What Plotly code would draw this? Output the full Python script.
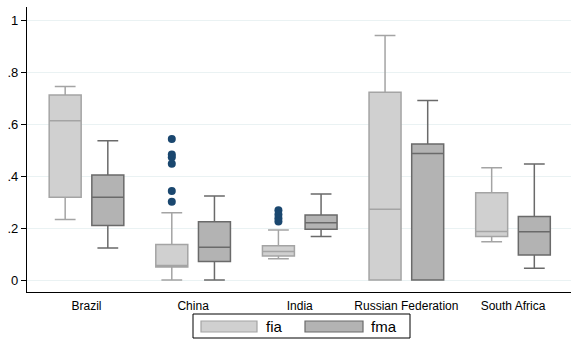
import plotly.graph_objects as go

categories = ["Brazil", "China", "India", "Russian Federation", "South Africa"]

# fia box statistics
fia_low = [0.233, 0.0, 0.082, 0.0, 0.147]
fia_q1 = [0.318, 0.050, 0.092, 0.0, 0.167]
fia_med = [0.613, 0.056, 0.110, 0.272, 0.187]
fia_q3 = [0.712, 0.137, 0.132, 0.722, 0.336]
fia_high = [0.744, 0.259, 0.192, 0.940, 0.432]

# fma box statistics
fma_low = [0.123, 0.0, 0.167, 0.0, 0.045]
fma_q1 = [0.210, 0.071, 0.195, 0.0, 0.096]
fma_med = [0.318, 0.126, 0.220, 0.487, 0.186]
fma_q3 = [0.404, 0.224, 0.250, 0.523, 0.244]
fma_high = [0.536, 0.323, 0.331, 0.690, 0.446]

# fia outliers (category, value)
out_cat = ["China"] * 6 + ["India"] * 4
out_val = [0.542, 0.483, 0.472, 0.447, 0.342, 0.301, 0.268, 0.252, 0.238, 0.225]

y_tickvals = [0, 0.2, 0.4, 0.6, 0.8, 1]
y_ticktext = ["0", ".2", ".4", ".6", ".8", "1"]
legend_names = ["fia", "fma"]

W, H = 572, 339
L, R, T, B = 27, 1, 7, 47
offset = 0.2
bw = 0.3

fia_fill, fia_line = "#d0d0d0", "#a4a4a4"
fma_fill, fma_line = "#b3b3b3", "#6a6a6a"

idx = list(range(len(categories)))
fig = go.Figure()
fig.add_trace(go.Box(
    x=[i - offset for i in idx], q1=fia_q1, median=fia_med, q3=fia_q3,
    lowerfence=fia_low, upperfence=fia_high, width=bw, whiskerwidth=0.65,
    fillcolor=fia_fill, line=dict(color=fia_line, width=1.5),
    name=legend_names[0], showlegend=False, boxpoints=False))
fig.add_trace(go.Box(
    x=[i + offset for i in idx], q1=fma_q1, median=fma_med, q3=fma_q3,
    lowerfence=fma_low, upperfence=fma_high, width=bw, whiskerwidth=0.65,
    fillcolor=fma_fill, line=dict(color=fma_line, width=1.5),
    name=legend_names[1], showlegend=False, boxpoints=False))
fig.add_trace(go.Scatter(
    x=[categories.index(c) - offset for c in out_cat], y=out_val, mode="markers",
    marker=dict(color="#1a476f", size=8), showlegend=False))

pw = W - L - R
ph = H - T - B
def px(x):
    return (x - L) / pw
def py(y):
    return (H - B - y) / ph

shapes = [
    dict(type="rect", xref="paper", yref="paper", x0=px(193), x1=px(410), y0=py(314), y1=py(338),
         line=dict(color="#000000", width=1), fillcolor="white"),
    dict(type="rect", xref="paper", yref="paper", x0=px(201), x1=px(257), y0=py(321), y1=py(332),
         line=dict(color=fia_line, width=1.2), fillcolor=fia_fill),
    dict(type="rect", xref="paper", yref="paper", x0=px(305), x1=px(363), y0=py(321), y1=py(332),
         line=dict(color=fma_line, width=1.2), fillcolor=fma_fill),
]
annotations = [
    dict(text=legend_names[0], xref="paper", yref="paper", x=px(264), y=py(326.5), xanchor="left",
         yanchor="middle", showarrow=False, font=dict(size=15, color="#000")),
    dict(text=legend_names[1], xref="paper", yref="paper", x=px(369), y=py(326.5), xanchor="left",
         yanchor="middle", showarrow=False, font=dict(size=15, color="#000")),
]

fig.update_layout(
    width=W, height=H, margin=dict(l=L, r=R, t=T, b=B),
    paper_bgcolor="white", plot_bgcolor="white",
    font=dict(family="Liberation Sans, Arial, sans-serif", color="#000"),
    shapes=shapes, annotations=annotations, showlegend=False,
    xaxis=dict(range=[-0.558, 4.544], tickvals=idx, ticktext=categories, showline=True,
               linecolor="#000", linewidth=1.2, showgrid=False, zeroline=False, ticks="",
               tickfont=dict(size=12), ticklabelstandoff=2),
    yaxis=dict(range=[-0.046, 1.05], tickvals=y_tickvals, ticktext=y_ticktext, showline=True,
               linecolor="#000", linewidth=1.2, showgrid=True, gridcolor="#eaf2f3", gridwidth=1,
               zeroline=False, ticks="outside", ticklen=5, tickcolor="#000",
               tickfont=dict(size=13)),
)
fig.write_html("out.html")
